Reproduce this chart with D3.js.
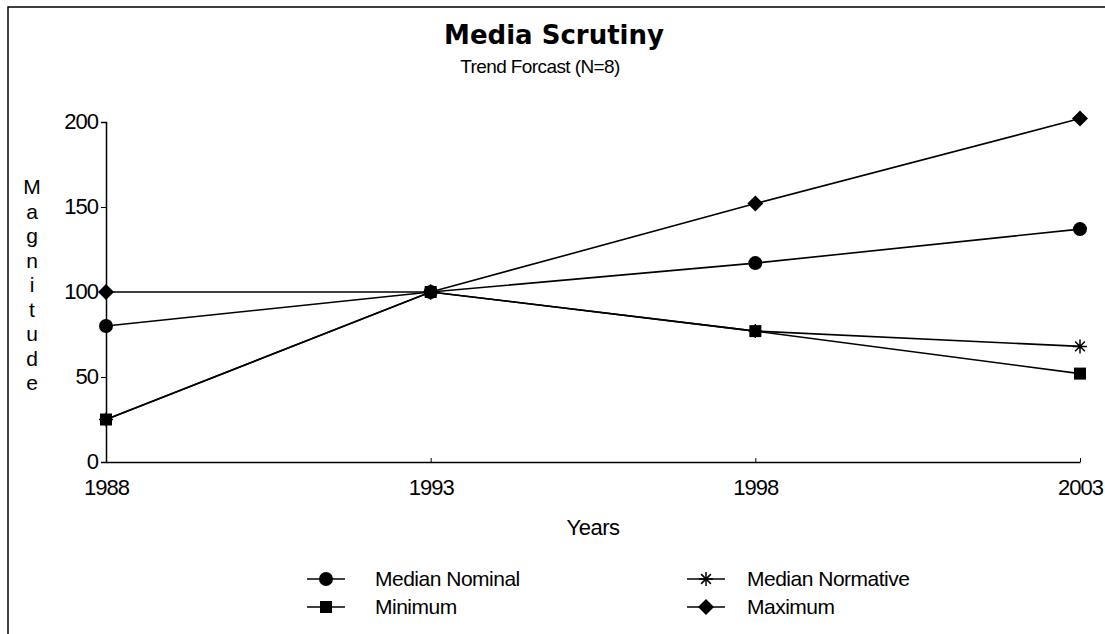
<!DOCTYPE html>
<html>
<head>
<meta charset="utf-8">
<script src="https://cdn.jsdelivr.net/npm/d3@7"></script>
<style>
body { margin: 0; background: #fff; }
text { font-family: "Liberation Sans", Arial, sans-serif; fill: #000; }
</style>
</head>
<body>
<svg id="chart" width="1105" height="634"></svg>
<script>
// chart data
var years = [1988, 1993, 1998, 2003];
var seriesNames = ["Median Nominal", "Median Normative", "Minimum", "Maximum"];
var medianNominal = [80, 100, 117, 137];
var medianNormative = [25, 100, 77, 68];
var minimum = [25, 100, 77, 52];
var maximum = [100, 100, 152, 202];
var yTicks = [0, 50, 100, 150, 200];

var svg = d3.select("#chart");

// page frame
svg.append("rect")
	.attr("x", 8).attr("y", 7)
	.attr("width", 1110).attr("height", 640)
	.attr("fill", "none").attr("stroke", "#000").attr("stroke-width", 1.5);

var x = d3.scalePoint().domain(years).range([106, 1080]);
var y = d3.scaleLinear().domain([0, 200]).range([462, 122]);

// axes
var yAxis = d3.axisLeft(y).tickValues(yTicks).tickSize(5).tickPadding(3);
var gy = svg.append("g").attr("transform", "translate(106,0)").call(yAxis);
gy.attr("font-size", null).attr("font-family", null);
gy.select(".domain").attr("stroke-width", 1.5);
gy.selectAll("text").style("font-size", "22px").attr("dy", "0.3em").style("letter-spacing", "-1px");

var xAxis = d3.axisBottom(x).tickSize(0).tickPadding(17);
var gx = svg.append("g").attr("transform", "translate(0,462)").call(xAxis);
gx.attr("font-size", null).attr("font-family", null);
gx.select(".domain").attr("stroke-width", 1.5);
gx.selectAll("text").style("font-size", "22px").style("letter-spacing", "-1px");
// small upward ticks on x axis
gx.selectAll(".tick line").attr("y2", -4).attr("stroke", "#000");

// titles
svg.append("text").attr("x", 554).attr("y", 44).attr("text-anchor", "middle")
	.style("font-family", "'DejaVu Sans', sans-serif")
	.style("font-size", "26px").style("font-weight", "bold").text("Media Scrutiny");
svg.append("text").attr("x", 540).attr("y", 73).attr("text-anchor", "middle")
	.style("font-size", "19px").style("letter-spacing", "-0.6px").text("Trend Forcast (N=8)");
svg.append("text").attr("x", 593).attr("y", 535).attr("text-anchor", "middle")
	.style("font-size", "22px").style("letter-spacing", "-0.5px").text("Years");

// vertical stacked y title
var letters = "Magnitude".split("");
svg.append("g").selectAll("text").data(letters).join("text")
	.attr("x", 32)
	.attr("y", function(d, i) { return 194 + i * 24.5; })
	.attr("text-anchor", "middle")
	.style("font-size", "21px")
	.text(function(d) { return d; });

// markers
function drawMarker(g, type, cx, cy) {
	if (type === "circle") {
		g.append("circle").attr("cx", cx).attr("cy", cy).attr("r", 7).attr("fill", "#000");
	} else if (type === "square") {
		g.append("rect").attr("x", cx - 6).attr("y", cy - 6).attr("width", 12).attr("height", 12).attr("fill", "#000");
	} else if (type === "diamond") {
		var r = 8;
		g.append("path")
			.attr("d", "M" + cx + "," + (cy - r) + "L" + (cx + r) + "," + cy + "L" + cx + "," + (cy + r) + "L" + (cx - r) + "," + cy + "Z")
			.attr("fill", "#000");
	} else if (type === "star") {
		var s = 7;
		g.append("path")
			.attr("d", "M" + (cx - s) + "," + cy + "L" + (cx + s) + "," + cy +
				"M" + cx + "," + (cy - s) + "L" + cx + "," + (cy + s) +
				"M" + (cx - s * 0.7) + "," + (cy - s * 0.7) + "L" + (cx + s * 0.7) + "," + (cy + s * 0.7) +
				"M" + (cx - s * 0.7) + "," + (cy + s * 0.7) + "L" + (cx + s * 0.7) + "," + (cy - s * 0.7))
			.attr("stroke", "#000").attr("stroke-width", 1.5);
	}
}

var series = [
	{ name: seriesNames[0], values: medianNominal, marker: "circle" },
	{ name: seriesNames[1], values: medianNormative, marker: "star" },
	{ name: seriesNames[2], values: minimum, marker: "square" },
	{ name: seriesNames[3], values: maximum, marker: "diamond" }
];

var line = d3.line()
	.x(function(d, i) { return x(years[i]); })
	.y(function(d) { return y(d); });

var plot = svg.append("g");
series.forEach(function(s) {
	plot.append("path").attr("d", line(s.values))
		.attr("fill", "none").attr("stroke", "#000").attr("stroke-width", 1.6);
});
series.forEach(function(s) {
	s.values.forEach(function(v, i) {
		drawMarker(plot, s.marker, x(years[i]), y(v));
	});
});

// legend
var legendPos = [[326, 579], [706, 579], [326, 607], [706, 607]];
var legendTextX = [375, 747, 375, 747];
var lg = svg.append("g");
series.forEach(function(s, i) {
	var p = legendPos[i];
	lg.append("line").attr("x1", p[0] - 19).attr("x2", p[0] + 19)
		.attr("y1", p[1]).attr("y2", p[1]).attr("stroke", "#000").attr("stroke-width", 1.6);
	drawMarker(lg, s.marker, p[0], p[1]);
	lg.append("text").attr("x", legendTextX[i]).attr("y", p[1]).attr("dy", "0.35em")
		.style("font-size", "21px").style("letter-spacing", "-0.5px").text(s.name);
});
</script>
</body>
</html>
